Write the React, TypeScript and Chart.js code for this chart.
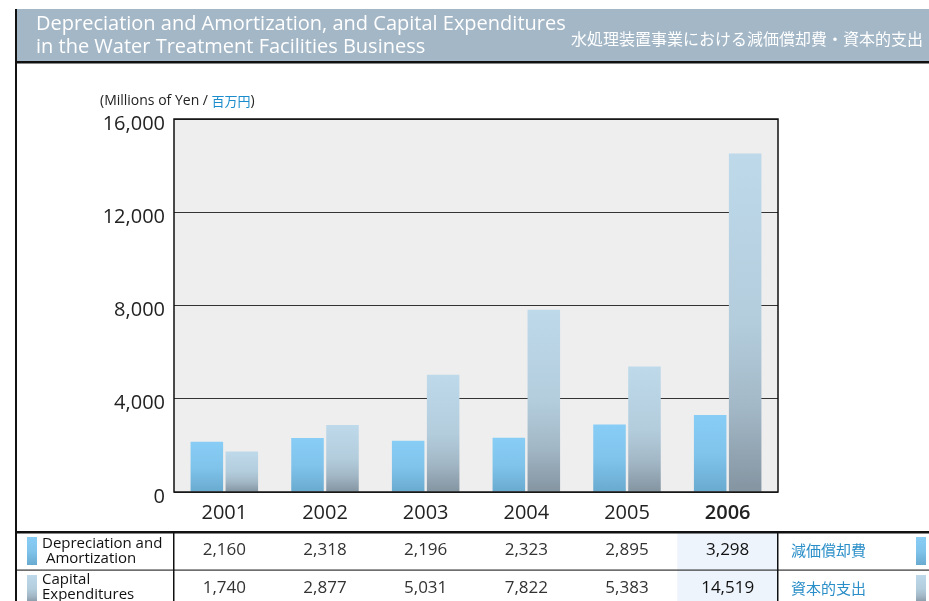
import React, { useEffect, useRef } from "react";
import { Chart, registerables } from "chart.js";
Chart.register(...registerables);

const years = ["2001", "2002", "2003", "2004", "2005", "2006"];
const depreciation = [2160, 2318, 2196, 2323, 2895, 3298];
const capex = [1740, 2877, 5031, 7822, 5383, 14519];
const yTickValues = [0, 4000, 8000, 12000, 16000];
const titleEn = ["Depreciation and Amortization, and Capital Expenditures", "in the Water Treatment Facilities Business"];
const titleJa = "水処理装置事業における減価償却費・資本的支出";
const unitEn = "(Millions of Yen / ";
const unitJa = "百万円";
const unitEnd = ")";
const rowLabelsEn = [["Depreciation and", " Amortization"], ["Capital", "Expenditures"]];
const rowLabelsJa = ["減価償却費", "資本的支出"];

const FONT = "'Open Sans', 'Noto Sans', sans-serif";
const CJK = "'Noto Sans CJK JP', sans-serif";

const depStops: [number, string][] = [[0, "#88cdf5"], [0.5, "#80c4ec"], [1, "#69aacf"]];
const capStops: [number, string][] = [[0, "#bed9ea"], [0.5, "#b3cddd"], [0.75, "#a3b8c7"], [1, "#8494a1"]];

function makeGrad(ctx: CanvasRenderingContext2D, y0: number, y1: number, stops: [number, string][]) {
  const g = ctx.createLinearGradient(0, y0, 0, y1);
  stops.forEach(([o, c]) => g.addColorStop(o, c));
  return g;
}

function barFill(stops: [number, string][]) {
  return (c: any) => {
    const chart = c.chart;
    if (!chart.chartArea || c.type !== "data") return stops[0][1];
    const ys = chart.scales.y;
    const v = c.parsed ? c.parsed.y : c.raw;
    const y0 = ys.getPixelForValue(v);
    const y1 = ys.getPixelForValue(0);
    if (y1 - y0 < 1) return stops[0][1];
    return makeGrad(chart.ctx, y0, y1, stops);
  };
}

const fmt = (v: number) => v.toLocaleString("en-US");

const decorPlugin = {
  id: "decor",
  beforeDraw(chart: any) {
    const { ctx, chartArea: a } = chart;
    ctx.save();
    ctx.fillStyle = "#ffffff";
    ctx.fillRect(0, 0, chart.width, chart.height);
    ctx.fillStyle = "#eeeeee";
    ctx.fillRect(a.left, a.top, a.right - a.left, a.bottom - a.top);
    ctx.restore();
  },
  afterDatasetsDraw(chart: any) {
    const { ctx, chartArea: a } = chart;
    ctx.save();
    ctx.strokeStyle = "#111";
    ctx.lineWidth = 1.5;
    ctx.strokeRect(a.left, a.top, a.right - a.left, a.bottom - a.top);
    ctx.restore();
  },
  afterDraw(chart: any) {
    const { ctx, chartArea: a } = chart;
    const xs = chart.scales.x;
    const W = chart.width;
    ctx.save();
    // header band
    ctx.fillStyle = "#a3b7c7";
    ctx.fillRect(17, 9, W - 17, 52);
    ctx.fillStyle = "#111";
    ctx.fillRect(15, 61, W - 15, 2.5);
    ctx.fillRect(15, 9, 2, chart.height - 9);
    ctx.fillStyle = "#ffffff";
    ctx.textBaseline = "middle";
    ctx.textAlign = "left";
    ctx.font = `20px ${FONT}`;
    ctx.fillText(titleEn[0], 36, 24);
    ctx.fillText(titleEn[1], 36, 47);
    ctx.font = `16px ${CJK}`;
    ctx.fillText(titleJa, 571, 39);

    // unit label
    ctx.font = `14px ${FONT}`;
    ctx.fillStyle = "#222";
    ctx.fillText(unitEn, 100, 101);
    let ux = 100 + ctx.measureText(unitEn).width;
    ctx.font = `13px ${CJK}`;
    ctx.fillStyle = "#1a8ccc";
    ctx.fillText(unitJa, ux, 101);
    ux += ctx.measureText(unitJa).width;
    ctx.font = `14px ${FONT}`;
    ctx.fillStyle = "#222";
    ctx.fillText(unitEnd, ux, 101);

    // table
    const half = (xs.getPixelForValue(1) - xs.getPixelForValue(0)) / 2;
    const hx0 = xs.getPixelForValue(5) - half;
    ctx.fillStyle = "#edf4fb";
    ctx.fillRect(hx0, 533, a.right - hx0, chart.height - 533);
    ctx.fillStyle = "#111";
    ctx.fillRect(17, 531, W - 17, 2.5);
    ctx.fillStyle = "#333";
    ctx.fillRect(17, 569.5, W - 17, 1.2);
    ctx.fillStyle = "#111";
    ctx.fillRect(a.left - 1, 533, 1.5, chart.height - 533);
    ctx.fillRect(a.right - 1, 533, 1.5, chart.height - 533);

    const rows = [depreciation, capex];
    const rowY = [550, 588];
    rows.forEach((vals, r) => {
      vals.forEach((v, i) => {
        const x = xs.getPixelForValue(i);
        ctx.textAlign = "center";
        ctx.fillStyle = i === 5 ? "#111" : "#333";
        ctx.font = `${i === 5 ? "500 " : ""}17px ${FONT}`;
        ctx.fillText(fmt(v), x, rowY[r]);
      });
    });

    // swatches
    const sw = (x: number, y0: number, y1: number, stops: [number, string][]) => {
      ctx.fillStyle = makeGrad(ctx, y0, y1, stops);
      ctx.fillRect(x, y0, 10, y1 - y0);
    };
    sw(27, 537, 565, depStops);
    sw(27, 575, 603, capStops);
    sw(916, 537, 565, depStops);
    sw(916, 575, 603, capStops);

    ctx.textAlign = "left";
    ctx.fillStyle = "#111";
    ctx.font = `15px ${FONT}`;
    ctx.fillText(rowLabelsEn[0][0], 42, 544);
    ctx.fillText(rowLabelsEn[0][1], 42, 559);
    ctx.fillText(rowLabelsEn[1][0], 42, 580);
    ctx.fillText(rowLabelsEn[1][1], 42, 595);

    ctx.fillStyle = "#2a8ec8";
    ctx.font = `15px ${CJK}`;
    ctx.fillText(rowLabelsJa[0], 791, 550);
    ctx.fillText(rowLabelsJa[1], 791, 588);
    ctx.restore();
  },
};

export default function App() {
  const ref = useRef<HTMLCanvasElement>(null);
  useEffect(() => {
    if (!ref.current) return;
    const padLeft = 17;
    const chart = new Chart(ref.current, {
      type: "bar",
      data: {
        labels: years,
        datasets: [
          { label: "Depreciation and Amortization", data: depreciation, backgroundColor: barFill(depStops), categoryPercentage: 0.695, barPercentage: 0.93 },
          { label: "Capital Expenditures", data: capex, backgroundColor: barFill(capStops), categoryPercentage: 0.695, barPercentage: 0.93 },
        ],
      },
      options: {
        animation: false,
        responsive: false,
        devicePixelRatio: 1,
        layout: { padding: { left: padLeft, top: 119, right: 151, bottom: 0 } },
        plugins: { legend: { display: false }, tooltip: { enabled: false } },
        scales: {
          x: {
            grid: { display: false, drawTicks: false },
            border: { display: false },
            ticks: {
              color: "#222",
              padding: 9,
              font: (c: any) => ({ family: FONT, size: 20, weight: c.index === 5 ? "600" : "normal" }),
            },
            afterFit: (s: any) => { s.height = 601 - 492; },
          },
          y: {
            min: 0,
            max: 16000,
            afterBuildTicks: (s: any) => { s.ticks = yTickValues.map((v) => ({ value: v })); },
            grid: { color: "#333", lineWidth: 1, drawTicks: false },
            border: { display: false },
            ticks: {
              color: "#222",
              padding: 9,
              labelOffset: 5,
              font: { family: FONT, size: 20 },
              callback: (v: any) => fmt(Number(v)),
            },
            afterFit: (s: any) => { s.width = 174 - padLeft; },
          },
        },
      },
      plugins: [decorPlugin],
    });
    return () => chart.destroy();
  }, []);
  return (
    <div style={{ position: "absolute", left: 0, top: 0, width: 929, height: 601 }}>
      <canvas ref={ref} width={929} height={601} style={{ width: 929, height: 601, display: "block" }} />
    </div>
  );
}
